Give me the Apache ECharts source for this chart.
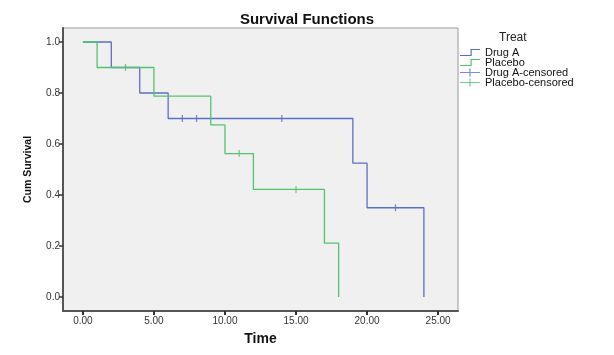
<!DOCTYPE html>
<html>
<head>
<meta charset="utf-8">
<script src="https://cdn.jsdelivr.net/npm/echarts@6/dist/echarts.min.js"></script>
<style>html,body{margin:0;padding:0;background:#fff;}#c{width:614px;height:355px;}</style>
</head>
<body>
<div id="c"></div>
<script>
// Kaplan-Meier step points [time, survival]
var drugA = [[0,1],[2,0.9],[4,0.8],[6,0.7],[19,0.525],[20,0.35],[24,0]];
var placebo = [[0,1],[1,0.9],[5,0.7875],[9,0.675],[10,0.5625],[12,0.4219],[17,0.2109],[18,0]];
var drugACensored = [[7,0.7],[8,0.7],[14,0.7],[22,0.35]];
var placeboCensored = [[3,0.9],[11,0.5625],[15,0.4219]];
var xTicks = [0,5,10,15,20,25];
var yTicks = [0,0.2,0.4,0.6,0.8,1.0];
var seriesNames = ['Drug A','Placebo','Drug A-censored','Placebo-censored'];

var blue = '#5a70c4', green = '#52c46c';
var stepIcon = 'path://M0,6.5 L10.5,6.5 L10.5,0.5 L20,0.5 L20,1.7 L11.7,1.7 L11.7,7.7 L0,7.7 Z';
var crossIcon = 'path://M0,3.4 H9.4 V0 H10.6 V3.4 H20 V4.6 H10.6 V8 H9.4 V4.6 H0 Z';

var chart = echarts.init(document.getElementById('c'), null, {renderer:'canvas'});
chart.setOption({
  animation: false,
  title: {text: 'Survival Functions', left: 'center', top: 7,
    textStyle: {fontFamily: 'Liberation Sans, Arial', fontSize: 15, fontWeight: 'bold', color: '#111'}},
  grid: {left: 63, right: 156, top: 28, bottom: 44, show: true, backgroundColor: '#f0f0f0',
    borderColor: '#999', borderWidth: 1},
  graphic: [{type: 'text', left: 499, top: 32,
    style: {text: 'Treat', fontFamily: 'Liberation Sans, Arial', fontSize: 12, fill: '#222'}}],
  legend: {
    orient: 'vertical', left: 460, top: 47, padding: 0, itemWidth: 20, itemHeight: 8, itemGap: -1,
    textStyle: {fontFamily: 'Liberation Sans, Arial', fontSize: 11, color: '#111'},
    data: [
      {name: seriesNames[0], icon: stepIcon, itemStyle: {color: blue}},
      {name: seriesNames[1], icon: stepIcon, itemStyle: {color: green}},
      {name: seriesNames[2], icon: crossIcon, itemStyle: {color: blue}},
      {name: seriesNames[3], icon: crossIcon, itemStyle: {color: green}}
    ]
  },
  xAxis: {
    type: 'value', min: -1.4, max: 26.4,
    name: 'Time', nameLocation: 'middle', nameGap: 21,
    nameTextStyle: {fontFamily: 'Liberation Sans, Arial', fontSize: 14, fontWeight: 'bold', color: '#111'},
    axisLine: {show: true, onZero: false, lineStyle: {color: '#555', width: 2}},
    axisTick: {show: true, length: 4, customValues: xTicks, lineStyle: {color: '#333', width: 2}},
    axisLabel: {customValues: xTicks, margin: 5, formatter: function(v){return v.toFixed(2);},
      fontFamily: 'Liberation Sans, Arial', fontSize: 10, color: '#333'},
    splitLine: {show: false}
  },
  yAxis: {
    type: 'value', min: -0.055, max: 1.055,
    name: 'Cum Survival', nameLocation: 'middle', nameGap: 29, nameRotate: 90,
    nameTextStyle: {fontFamily: 'Liberation Sans, Arial', fontSize: 10.5, fontWeight: 'bold', color: '#111'},
    axisLine: {show: true, onZero: false, lineStyle: {color: '#555', width: 2}},
    axisTick: {show: true, length: 4, customValues: yTicks, lineStyle: {color: '#333', width: 1.5}},
    axisLabel: {customValues: yTicks, margin: 3, formatter: function(v){return v.toFixed(1);},
      fontFamily: 'Liberation Sans, Arial', fontSize: 10, color: '#333'},
    splitLine: {show: false}
  },
  series: [
    {name: seriesNames[0], type: 'line', step: 'end', data: drugA, symbol: 'none',
      lineStyle: {color: blue, width: 1.3}, itemStyle: {color: blue}},
    {name: seriesNames[1], type: 'line', step: 'end', data: placebo, symbol: 'none',
      lineStyle: {color: green, width: 1.3}, itemStyle: {color: green}},
    {name: seriesNames[2], type: 'scatter', data: drugACensored, symbol: 'rect', symbolSize: [1.3, 7],
      itemStyle: {color: blue}},
    {name: seriesNames[3], type: 'scatter', data: placeboCensored, symbol: 'rect', symbolSize: [1.3, 7],
      itemStyle: {color: green}}
  ]
});
</script>
</body>
</html>
